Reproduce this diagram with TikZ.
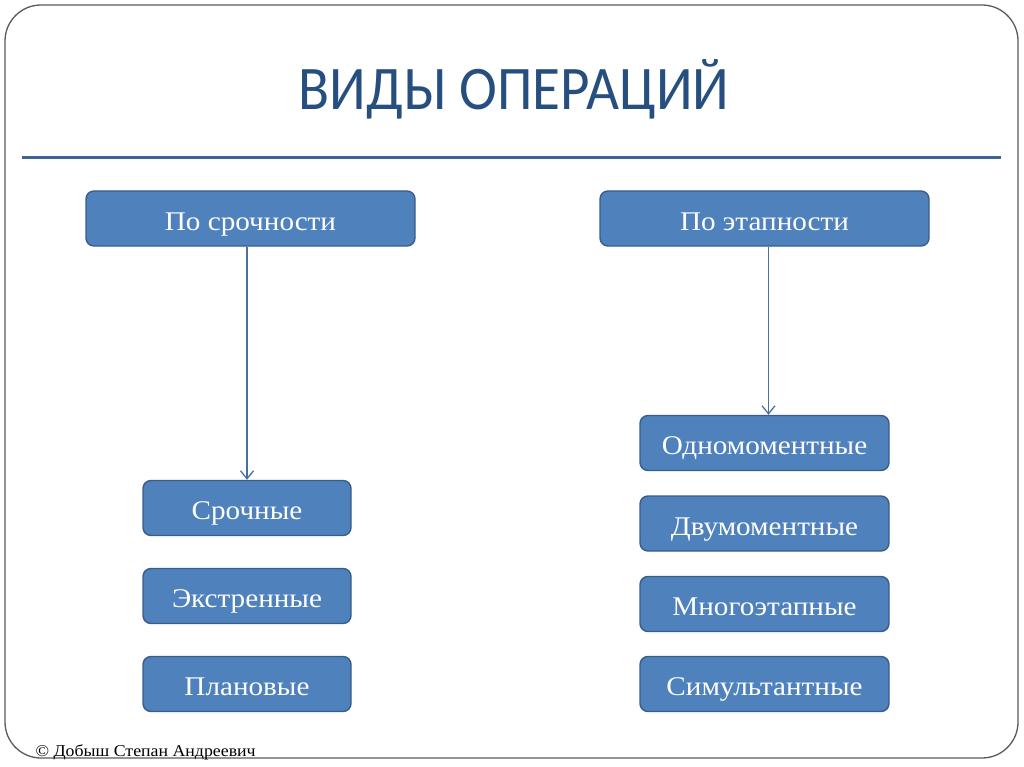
\documentclass[tikz,border=0pt]{standalone}
\usepackage{fontspec}
\usepackage{tikz}
\usetikzlibrary{arrows.meta, positioning, calc}
\setmainfont{Liberation Serif}
\newfontfamily\titlefont[FakeStretch=0.92]{Carlito}
\newfontfamily\boxfont[FakeStretch=1.08]{Liberation Serif}
\definecolor{boxblue}{HTML}{4F81BD}
\definecolor{boxedge}{HTML}{385D8A}
\definecolor{titleblue}{HTML}{264E7E}
\definecolor{ruleblue}{HTML}{3F6592}
\definecolor{linkblue}{HTML}{4A70A0}
\definecolor{framegray}{HTML}{5A5A5A}

\begin{document}
\begin{tikzpicture}[
    x=1pt, y=-1pt,
    kind/.style={rectangle, draw=boxedge, fill=boxblue, line width=1.4pt, rounded corners=8pt, text=white, inner sep=0pt, minimum height=55pt, text height=23pt, text depth=0pt, font=\boxfont\fontsize{27}{30}\selectfont},
    wide/.style={kind, minimum width=329pt},
    narrowbox/.style={kind, minimum width=208pt},
    midbox/.style={kind, minimum width=249pt},
    arrow/.style={-{Straight Barb[length=8pt, width=13pt, line width=1.3pt]}, draw=linkblue, line width=1.4pt}
]
\useasboundingbox (0,0) rectangle (1024,767);

% slide frame
\draw[framegray, line width=1.3pt, rounded corners=36pt] (5,5) rectangle (1018,758);

\node[anchor=base, text=titleblue, font=\titlefont\fontsize{62}{70}\selectfont] (title) at (514,110) {ВИДЫ ОПЕРАЦИЙ};
\coordinate (ruleL) at (22,158);
\coordinate (ruleR) at (1001,158);
\draw[ruleblue, line width=3pt] (ruleL) -- (ruleR);

\node[wide] (urgency) at (250.5,218.5) {По срочности};
\node[wide] (stages) at (764.5,218.5) {По этапности};

\node[narrowbox] (urgent) at (247,508) {Срочные};
\node[narrowbox] (emergency) at (247,596) {Экстренные};
\node[narrowbox] (planned) at (247,684) {Плановые};

\node[midbox] (onestep) at (764.5,443) {Одномоментные};
\node[midbox] (twostep) at (764.5,523.5) {Двумоментные};
\node[midbox] (multistep) at (764.5,604) {Многоэтапные};
\node[midbox] (simult) at (764.5,684) {Симультантные};

\draw[arrow] (urgency.south -| urgent.north) -- (urgent.north);
\draw[arrow] ([xshift=4pt]stages.south) -- ([xshift=4pt]onestep.north);

\node[anchor=base west, font=\boxfont\fontsize{16.5}{18}\selectfont] (author) at (32,756) {© Добыш Степан Андреевич};
\end{tikzpicture}
\end{document}
